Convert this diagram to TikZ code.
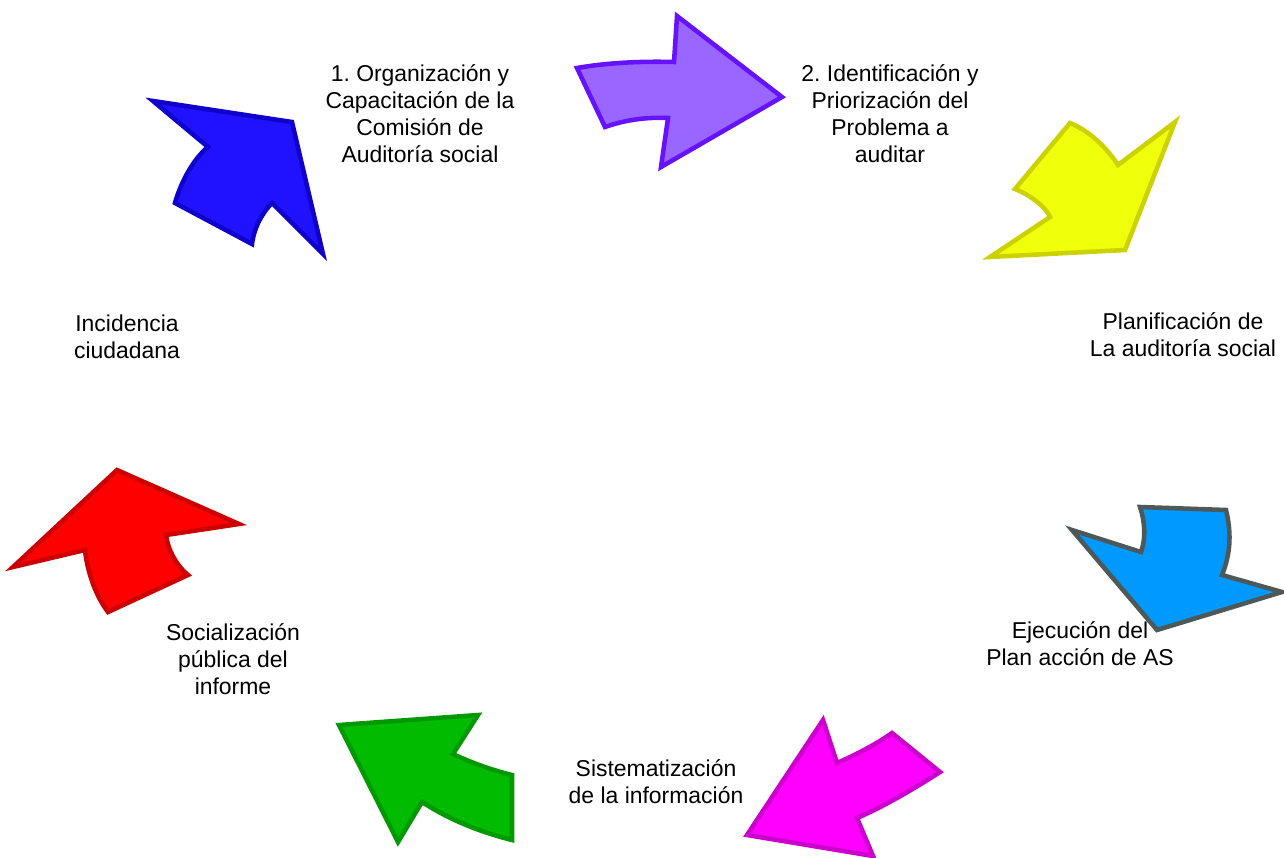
\documentclass[tikz,border=0pt]{standalone}
\usepackage{fontspec}
\setmainfont{Liberation Sans}
\frenchspacing
\definecolor{bluef}{RGB}{32,18,255}
\definecolor{blues}{RGB}{16,0,204}
\definecolor{purf}{RGB}{153,102,255}
\definecolor{purs}{RGB}{102,17,255}
\definecolor{yelf}{RGB}{240,255,10}
\definecolor{yels}{RGB}{204,210,0}
\definecolor{cyaf}{RGB}{0,153,255}
\definecolor{cyas}{RGB}{77,89,89}
\definecolor{magf}{RGB}{255,0,255}
\definecolor{mags}{RGB}{204,0,204}
\definecolor{grnf}{RGB}{0,187,0}
\definecolor{grns}{RGB}{0,153,0}
\definecolor{redf}{RGB}{255,0,0}
\definecolor{reds}{RGB}{204,0,0}
\begin{document}
\begin{tikzpicture}[x=0.75pt,y=-0.75pt,
  lbl/.style={align=center,inner sep=0pt,font=\fontsize{17.2pt}{20.25pt}\selectfont\frenchspacing},
  arrowshape/.style={line width=3.4pt,line join=miter,miter limit=6}]
\useasboundingbox (0,0) rectangle (1284,857);
% labels
\node[lbl] (t1) at (420,114) {1. Organización y\\Capacitación de la\\Comisión de\\Auditoría social};
\node[lbl] (t2) at (890,114) {2. Identificación y\\Priorización del\\Problema a\\auditar};
\node[lbl] (t3) at (1183,335) {Planificación de\\La auditoría social};
\node[lbl] (t4) at (1080,644) {Ejecución del\\Plan acción de AS};
\node[lbl] (t5) at (656,782) {Sistematización\\de la información};
\node[lbl] (t6) at (233,659) {Socialización\\pública del\\informe};
\node[lbl] (t7) at (127,337) {Incidencia\\ciudadana};
% arrows
\draw[arrowshape,draw=blues,fill=bluef] (153,101) -- (292,122) -- (323,254) -- (272,203)
  .. controls (262,213) and (254,228) .. (252,244) -- (175,203)
  .. controls (180,185) and (192,160) .. (208,147) -- cycle;
\draw[arrowshape,draw=purs,fill=purf] (577,68) .. controls (605,63) and (640,61) .. (674,62)
  -- (677,16) -- (782,97) -- (661,167) -- (668,118)
  .. controls (645,117) and (625,120) .. (605,127) -- cycle;
\draw[arrowshape,draw=yels,fill=yelf] (1070,123) .. controls (1092,132) and (1108,150) .. (1118,165)
  -- (1175,122) -- (1125,250) -- (990,257) -- (1050,217)
  .. controls (1046,207) and (1030,195) .. (1015,189) -- cycle;
\draw[arrowshape,draw=cyas,fill=cyaf] (1140,507) -- (1226,510)
  .. controls (1232,535) and (1230,555) .. (1222,575) -- (1282,592) -- (1157,630)
  -- (1072,530) -- (1141,552) .. controls (1146,538) and (1145,522) .. (1140,507) -- cycle;
\draw[arrowshape,draw=mags,fill=magf] (823,720) -- (837,763)
  .. controls (855,755) and (875,745) .. (892,733) -- (940,772)
  .. controls (915,788) and (885,806) .. (857,818) -- (873,856) -- (747,835) -- cycle;
\draw[arrowshape,draw=grns,fill=grnf] (339,725) -- (478,715) -- (453,754)
  .. controls (472,763) and (492,770) .. (512,775) -- (512,840)
  .. controls (480,832) and (450,820) .. (422,802) -- (398,842) -- cycle;
\draw[arrowshape,draw=reds,fill=redf] (117,470) -- (239,524) -- (166,535)
  .. controls (168,550) and (176,565) .. (188,575) -- (108,612)
  .. controls (95,595) and (87,570) .. (85,550) -- (13,567) -- cycle;
\end{tikzpicture}
\end{document}
